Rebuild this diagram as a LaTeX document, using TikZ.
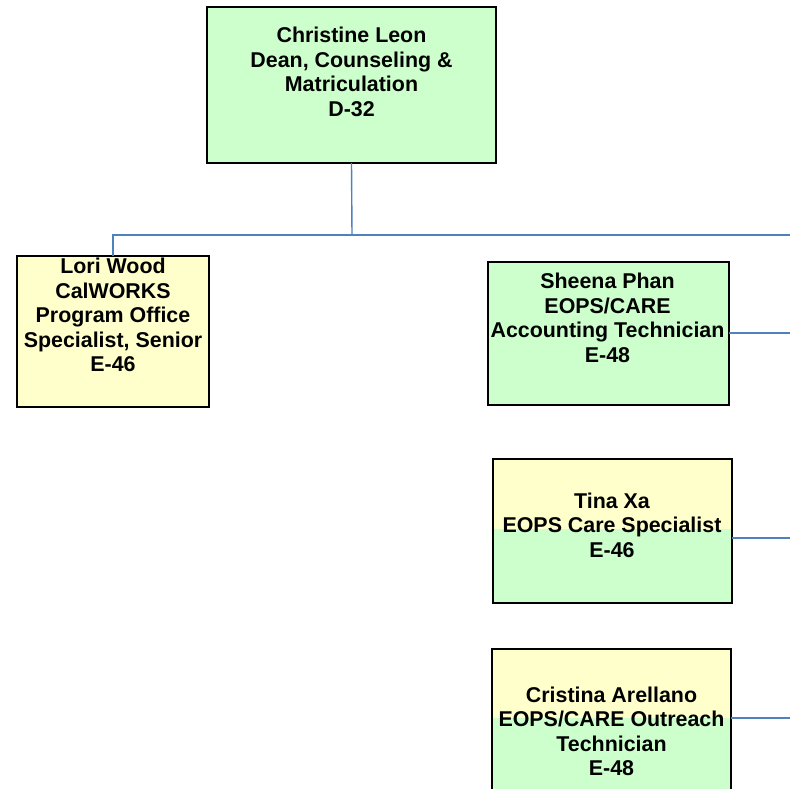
\documentclass[tikz,border=0pt]{standalone}
\usepackage{fontspec}
\setmainfont{Liberation Sans}
\definecolor{boxgreen}{RGB}{204,255,204}
\definecolor{boxyellow}{RGB}{255,255,204}
\definecolor{connblue}{RGB}{79,129,189}
\begin{document}
\begin{tikzpicture}[x=1pt,y=-1pt,
  box/.style={draw=black, line width=1.6pt, inner sep=0pt, outer sep=0pt, anchor=north west},
  twotone/.style={fill=boxgreen, path picture={\fill[boxyellow] (path picture bounding box.north west) rectangle ([yshift=-#1]path picture bounding box.north east);}},
  txt/.style={align=center, font=\fontsize{21.4}{24.5}\selectfont\bfseries, inner sep=0pt},
  conn/.style={draw=connblue, line width=1.4pt}]
\useasboundingbox (0,0) rectangle (790,789);
\clip (0,0) rectangle (790,789);
\fill[white] (0,0) rectangle (790,789);
% boxes
\node[box, fill=boxgreen, minimum width=289pt, minimum height=156pt] (dean) at (207,7) {};
\node[box, fill=boxyellow, minimum width=192pt, minimum height=151pt] (lori) at (17,256) {};
\node[box, fill=boxgreen, minimum width=241pt, minimum height=143pt] (sheena) at (488,262) {};
\node[box, twotone=70pt, minimum width=239pt, minimum height=144pt] (tina) at (493,459) {};
\node[box, twotone=69pt, minimum width=239pt, minimum height=144pt] (cristina) at (492,649) {};
% texts
\node[txt] (deant) at (351.5,72) {Christine Leon\\Dean, Counseling \&\\Matriculation\\D-32};
\node[txt] (lorit) at (113,315) {Lori Wood\\CalWORKS\\Program Office\\Specialist, Senior\\E-46};
\node[txt] (sheenat) at (607.5,318) {Sheena Phan\\EOPS/CARE\\Accounting Technician\\E-48};
\node[txt] (tinat) at (612,525) {Tina Xa\\EOPS Care Specialist\\E-46};
\node[txt] (cristinat) at (611.5,731.5) {Cristina Arellano\\EOPS/CARE Outreach\\Technician\\E-48};
% connectors
\coordinate (bus) at (352,235);
\coordinate (busR) at (792,235);
\coordinate (r1) at (792,333);
\coordinate (r2) at (792,538);
\coordinate (r3) at (792,718);
\draw[conn] (dean.south) -- (bus);
\draw[conn] (lori.north) |- (busR);
\draw[conn] (r1 -| sheena.east) -- (r1);
\draw[conn] (r2 -| tina.east) -- (r2);
\draw[conn] (r3 -| cristina.east) -- (r3);
\end{tikzpicture}
\end{document}
